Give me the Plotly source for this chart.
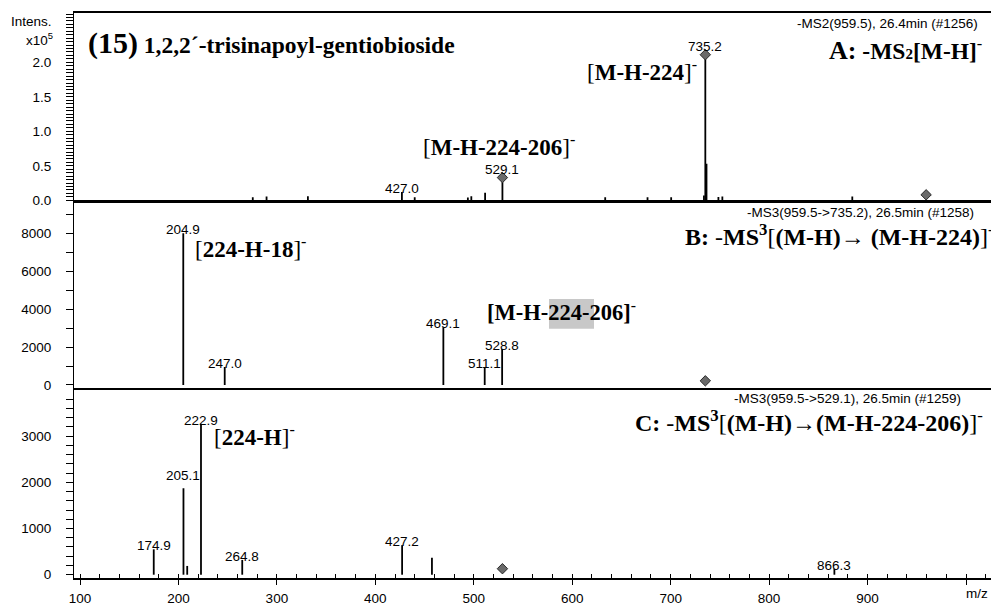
import plotly.graph_objects as go

# ---- MS2 of [M-H]- (intensity in units of 10^5) ----
a_mz = [275.5, 289.5, 331.5, 427.0, 440.0, 494.0, 497.5, 511.5, 529.1, 633.5,
        676.5, 700.5, 733.8, 735.2, 736.4, 748.5, 752.5, 884.5]
a_int = [0.045, 0.055, 0.06, 0.12, 0.045, 0.04, 0.06, 0.11, 0.33, 0.045,
         0.045, 0.045, 0.07, 2.11, 0.53, 0.05, 0.055, 0.055]
a_labels = ["427.0", "529.1", "735.2"]
a_prec_mz = [529.1, 735.2, 959.5]
a_prec_int = [0.33, 2.11, 0.08]

# ---- MS3 959.5 -> 735.2 ----
b_mz = [204.9, 247.0, 469.1, 511.1, 528.8]
b_int = [8000, 950, 3050, 950, 1900]
b_labels = ["204.9", "247.0", "469.1", "511.1", "528.8"]
b_prec_mz = [735.2]
b_prec_int = [220]

# ---- MS3 959.5 -> 529.1 ----
c_mz = [174.9, 205.1, 208.9, 222.9, 264.8, 427.2, 457.5, 866.3]
c_int = [550, 1870, 190, 3270, 320, 640, 370, 130]
c_labels = ["174.9", "205.1", "222.9", "264.8", "427.2", "866.3"]
c_prec_mz = [529.1]
c_prec_int = [130]

x_ticks = [100, 200, 300, 400, 500, 600, 700, 800, 900, 1000]
x_ticktext = ["100", "200", "300", "400", "500", "600", "700", "800", "900", ""]

SANS = "Liberation Sans, Arial, sans-serif"
SERIF = "Liberation Serif, Times New Roman, serif"

# figure frame in pixels
W, H = 991, 606
L, R, T, B = 74, 991, 13, 582

# extra lift (px) for labels sitting on a precursor diamond or crowded peak
LABEL_LIFT = {"529.1": 5, "735.2": 5, "205.1": 9}


def px(x):
    return (x - L) / (R - L)


def py(y):
    return (B - y) / (B - T)


def stems(mz, inten):
    xs, ys = [], []
    for m, h in zip(mz, inten):
        xs += [m, m, None]
        ys += [0, h, None]
    return xs, ys


fig = go.Figure()

panels = [
    ("x3", "y3", a_mz, a_int, a_prec_mz, a_prec_int),
    ("x2", "y2", b_mz, b_int, b_prec_mz, b_prec_int),
    ("x", "y", c_mz, c_int, c_prec_mz, c_prec_int),
]
for xa, ya, mz, inten, pmz, pint in panels:
    xs, ys = stems(mz, inten)
    fig.add_trace(go.Scatter(x=xs, y=ys, xaxis=xa, yaxis=ya, mode="lines",
                             line=dict(color="black", width=1.8),
                             hoverinfo="skip", showlegend=False))
    fig.add_trace(go.Scatter(x=pmz, y=pint, xaxis=xa, yaxis=ya, mode="markers",
                             marker=dict(symbol="diamond", size=8, color="#6a6a6a",
                                         line=dict(color="#2a2a2a", width=1)),
                             hoverinfo="skip", showlegend=False))

# peak m/z labels
annots = []
label_sets = [("x3", "y3", a_mz, a_int, a_labels),
              ("x2", "y2", b_mz, b_int, b_labels),
              ("x", "y", c_mz, c_int, c_labels)]
for xa, ya, mz, inten, labels in label_sets:
    lookup = {f"{m:.1f}": h for m, h in zip(mz, inten)}
    for lab in labels:
        annots.append(dict(x=float(lab), y=lookup[lab], xref=xa, yref=ya,
                           text=lab, showarrow=False, xanchor="center",
                           yanchor="bottom", yshift=-6 + LABEL_LIFT.get(lab, 0),
                           font=dict(family=SANS, size=13.5, color="black")))


def note(x, y, text, size, family=SANS, xanchor="center"):
    annots.append(dict(x=px(x), y=py(y), xref="paper", yref="paper", text=text,
                       showarrow=False, xanchor=xanchor, yanchor="middle",
                       font=dict(family=family, size=size, color="black")))


note(31, 22, "Intens.", 13.5)
note(39, 39, "x10<sup>5</sup>", 13.5)
note(86, 43, "<b><span style='font-size:30px'>(15)</span> 1,2,2´-trisinapoyl-gentiobioside</b>",
     23.5, SERIF, "left")
note(980, 24, "-MS2(959.5), 26.4min (#1256)", 13.5, SANS, "right")
note(984, 50, "<b><span style='font-size:26px'>A:</span> -MS<span style='font-size:15px'>2</span>[M-H]</b><sup>-</sup>",
     23.5, SERIF, "right")
note(699, 71, "[<b>M-H-224</b>]<sup>-</sup>", 23, SERIF, "right")
note(421, 146, "[<b>M-H-224-206</b>]<sup>-</sup>", 23, SERIF, "left")

note(976, 214, "-MS3(959.5->735.2), 26.5min (#1258)", 13.5, SANS, "right")
note(683, 237, "<b>B:</b> -<b>MS<sup>3</sup></b>[<b>(M-H)</b>→ <b>(M-H-224)</b>]<sup>-</sup>",
     24, SERIF, "left")
note(193, 249, "[<b>224-H-18</b>]<sup>-</sup>", 23, SERIF, "left")
note(485, 313, "<b>[M-H-224-206]</b><sup>-</sup>", 22.5, SERIF, "left")

note(963, 401, "-MS3(959.5->529.1), 26.5min (#1259)", 13.5, SANS, "right")
note(985, 424, "<b>C:</b> -<b>MS<sup>3</sup></b>[<b>(M-H)</b>→<b>(M-H-224-206)</b>]<sup>-</sup>",
     24, SERIF, "right")
note(212, 438, "[<b>224-H</b>]<sup>-</sup>", 23, SERIF, "left")
note(977, 598, "m/z", 13.5)

# grey highlight behind "224-" in the panel-B label
shapes = [dict(type="rect", xref="paper", yref="paper",
               x0=px(549), x1=px(594), y0=py(331), y1=py(301),
               fillcolor="#c8c8c8", line=dict(width=0), layer="below")]

axis_common = dict(showgrid=False, zeroline=False, showline=True,
                   linecolor="black", color="black")
x_common = dict(range=[93.9, 1025.4], **axis_common)
y_common = dict(ticks="outside", ticklen=7, tickwidth=1.2, tickcolor="black",
                linewidth=1.2, ticklabelstandoff=12,
                tickfont=dict(family=SANS, size=13.5, color="black"),
                **axis_common)

fig.update_layout(
    width=W, height=H,
    margin=dict(l=L, r=W - R, t=T, b=H - B, pad=0),
    paper_bgcolor="white", plot_bgcolor="rgba(0,0,0,0)",
    showlegend=False,
    annotations=annots, shapes=shapes,
    xaxis=dict(domain=[0, 1], anchor="y", mirror=True, linewidth=1.6,
               tickvals=x_ticks, ticktext=x_ticktext,
               ticks="outside", ticklen=5, tickwidth=1.2, tickcolor="black",
               minor=dict(dtick=20, tick0=0, ticks="inside", ticklen=4,
                          tickwidth=1.2, tickcolor="black"),
               tickfont=dict(family=SANS, size=13.5, color="black"),
               ticklabelstandoff=2,
               **x_common),
    xaxis2=dict(domain=[0, 1], anchor="y2", matches="x", mirror=True,
                linewidth=1.8, showticklabels=False, ticks="", **x_common),
    xaxis3=dict(domain=[0, 1], anchor="y3", matches="x", mirror=True,
                linewidth=1.8, showticklabels=False, ticks="", **x_common),
    yaxis=dict(domain=[0, py(393)], anchor="x", range=[-71, 3991],
               tickvals=[0, 1000, 2000, 3000],
               minor=dict(dtick=200, tick0=0, ticks="outside", ticklen=7,
                          tickwidth=1.2, tickcolor="black"),
               **y_common),
    yaxis2=dict(domain=[py(391), py(203)], anchor="x2", range=[-177, 9668],
                tickvals=[0, 2000, 4000, 6000, 8000],
                minor=dict(dtick=1000, tick0=0, ticks="outside", ticklen=7,
                           tickwidth=1.2, tickcolor="black"),
                **y_common),
    yaxis3=dict(domain=[py(202), 1.0], anchor="x3", range=[-0.005, 2.715],
                tickvals=[0, 0.5, 1.0, 1.5, 2.0],
                ticktext=["0.0", "0.5", "1.0", "1.5", "2.0"],
                minor=dict(dtick=0.05, tick0=0, ticks="outside", ticklen=7,
                           tickwidth=1.2, tickcolor="black"),
                **y_common),
)

fig.write_html("out.html")
